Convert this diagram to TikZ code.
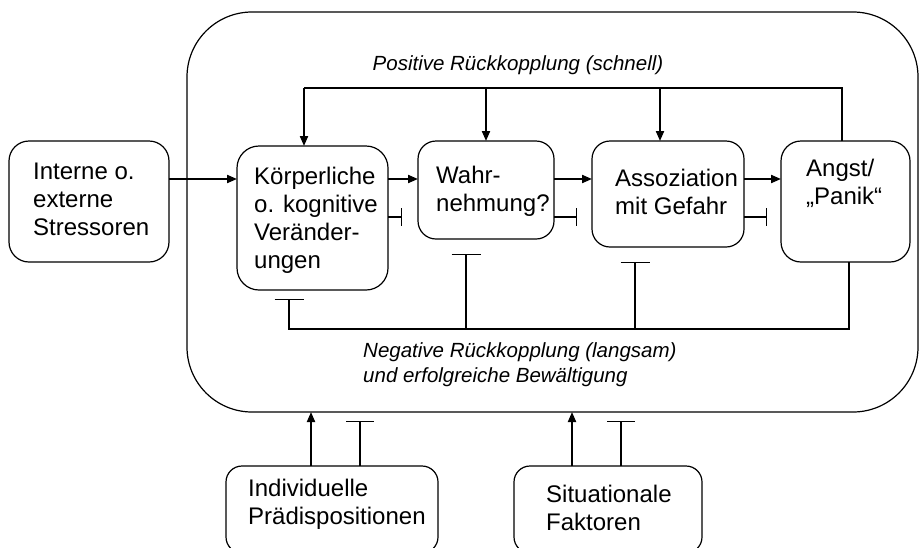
\documentclass[tikz,border=0pt]{standalone}
\usepackage{fontspec}
\setmainfont{Liberation Sans}
\usetikzlibrary{arrows.meta}
\newcommand{\boxfont}{\fontsize{24}{28}\selectfont}
\newcommand{\lblfont}{\fontsize{20.5}{25}\selectfont\itshape}
\begin{document}
\begin{tikzpicture}[x=1pt,y=-1pt,
  rbox/.style={draw, line width=1.2pt, rounded corners=#1, inner sep=0pt, outer sep=0pt},
  btxt/.style={anchor=base west, align=left, inner sep=0pt, font=\boxfont},
  arr/.style={line width=2pt, -{Triangle[length=10pt,width=8pt]}},
  thinl/.style={line width=1.2pt},
  inh/.style={line width=1.2pt, -{Bar[width=#1]}},
  inh/.default=29pt]
\clip (0,0) rectangle (920,547);
\fill[white] (0,0) rectangle (920,547);

% outer frame
\node[rbox=65pt, minimum width=731pt, minimum height=400pt] (outer) at (552.5,212) {};

% boxes
\node[rbox=20pt, minimum width=160pt, minimum height=121pt] (interne) at (89,201.5) {};
\node[rbox=22pt, minimum width=151pt, minimum height=144pt] (koerp) at (312.5,218) {};
\node[rbox=18pt, minimum width=136pt, minimum height=98pt] (wahr) at (486,190) {};
\node[rbox=18pt, minimum width=152pt, minimum height=106pt] (assoz) at (668,194) {};
\node[rbox=20pt, minimum width=129pt, minimum height=121pt] (angst) at (845.5,201.5) {};
\node[rbox=16pt, minimum width=212pt, minimum height=87pt] (indiv) at (332,509.5) {};
\node[rbox=16pt, minimum width=188pt, minimum height=87pt] (situ) at (608,509.5) {};

% texts (anchor = baseline of the last line)
\node[btxt] (interneT) at (33,235) {Interne o.\\externe\\Stressoren};
\node[btxt] (koerpT) at (254,268) {Körperliche\\o. kognitive\\Veränder-\\ungen};
\node[btxt] (wahrT) at (436,211) {Wahr-\\nehmung?};
\node[btxt] (assozT) at (615,214) {Assoziation\\mit Gefahr};
\node[btxt] (angstT) at (806,204) {Angst/\\„Panik“};
\node[btxt] (indivT) at (248,524) {Individuelle\\Prädispositionen};
\node[btxt] (situT) at (546,530) {Situationale\\Faktoren};

\node[anchor=base, inner sep=0pt, font=\lblfont] (posL) at (518,70) {Positive Rückkopplung (schnell)};
\node[anchor=base west, align=left, inner sep=0pt, font=\lblfont] (negL) at (363,382) {Negative Rückkopplung (langsam)\\und erfolgreiche Bewältigung};

% main chain
\coordinate (row) at (0,179);
\draw[arr] (interne.east |- row) -- (koerp.west |- row);
\draw[arr] (koerp.east |- row) -- (wahr.west |- row);
\draw[arr] (wahr.east |- row) -- (assoz.west |- row);
\draw[arr] (assoz.east |- row) -- (angst.west |- row);

% side inhibitions
\coordinate (t1) at (402,217);
\coordinate (t2) at (577,217);
\coordinate (t3) at (767,217);
\draw[inh=18pt] (koerp.east |- t1) -- (t1);
\draw[inh=18pt] (wahr.east |- t2) -- (t2);
\draw[inh=18pt] (assoz.east |- t3) -- (t3);

% positive feedback
\coordinate (fbR) at (842,88);
\coordinate (fbL) at (304,88);
\coordinate (fb2) at (486,88);
\coordinate (fb3) at (660,88);
\draw[thinl] (angst.north -| fbR) -- (fbR) -- (fbL);
\draw[arr] (fbL) -- (fbL |- koerp.north);
\draw[arr] (fb2) -- (fb2 |- wahr.north);
\draw[arr] (fb3) -- (fb3 |- assoz.north);

% negative feedback
\coordinate (nbR) at (849,329);
\coordinate (nbL) at (289,329);
\coordinate (b1) at (289,299);
\coordinate (b2) at (466,254);
\coordinate (b3) at (635,262);
\draw[inh] (angst.south -| nbR) -- (nbR) -- (nbL) -- (b1);
\draw[inh] (b2 |- nbR) -- (b2);
\draw[inh] (b3 |- nbR) -- (b3);

% bottom inputs
\coordinate (u1) at (311,0);
\coordinate (u2) at (572,0);
\coordinate (v1) at (360,421);
\coordinate (v2) at (621,421);
\draw[arr] (indiv.north -| u1) -- (outer.south -| u1);
\draw[arr] (situ.north -| u2) -- (outer.south -| u2);
\draw[inh=28pt] (indiv.north -| v1) -- (v1);
\draw[inh=28pt] (situ.north -| v2) -- (v2);
\end{tikzpicture}
\end{document}
